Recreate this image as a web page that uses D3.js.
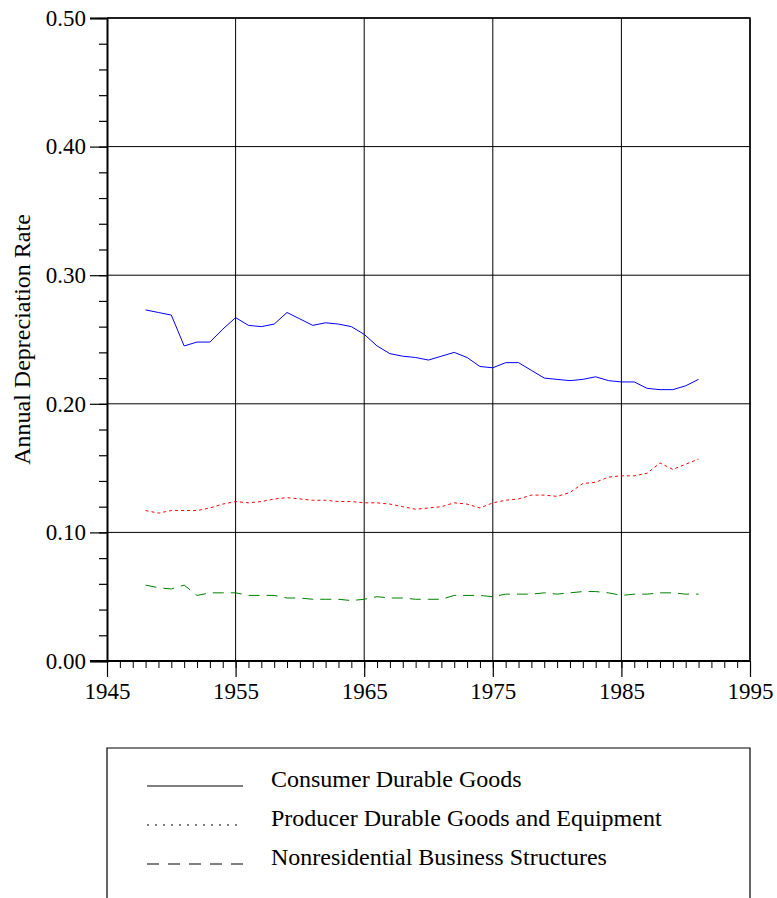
<!DOCTYPE html>
<html>
<head>
<meta charset="utf-8">
<script src="https://cdn.jsdelivr.net/npm/d3@7"></script>
<style>
  body { margin: 0; background: #fff; }
  svg text { font-family: "Liberation Serif", "Times New Roman", serif; fill: #000; }
</style>
</head>
<body>
<div id="chart"></div>
<script>
// years 1948..1991
const years = d3.range(1948, 1992);

const consumerDurables = [
  0.273, 0.271, 0.269, 0.245, 0.248, 0.248, 0.258, 0.267, 0.261, 0.260,
  0.262, 0.271, 0.266, 0.261, 0.263, 0.262, 0.260, 0.254, 0.245, 0.239,
  0.237, 0.236, 0.234, 0.237, 0.240, 0.236, 0.229, 0.228, 0.232, 0.232,
  0.226, 0.220, 0.219, 0.218, 0.219, 0.221, 0.218, 0.217, 0.217, 0.212,
  0.211, 0.211, 0.214, 0.219
];
const producerDurables = [
  0.117, 0.115, 0.117, 0.117, 0.117, 0.119, 0.122, 0.124, 0.123, 0.124,
  0.126, 0.127, 0.126, 0.125, 0.125, 0.124, 0.124, 0.123, 0.123, 0.122,
  0.120, 0.118, 0.119, 0.120, 0.123, 0.122, 0.119, 0.123, 0.125, 0.126,
  0.129, 0.129, 0.128, 0.131, 0.138, 0.139, 0.143, 0.144, 0.144, 0.146,
  0.154, 0.149, 0.153, 0.157
];
const nonresStructures = [
  0.059, 0.057, 0.056, 0.059, 0.051, 0.053, 0.053, 0.053, 0.051, 0.051,
  0.051, 0.049, 0.049, 0.048, 0.048, 0.048, 0.047, 0.048, 0.050, 0.049,
  0.049, 0.048, 0.048, 0.048, 0.051, 0.051, 0.051, 0.050, 0.052, 0.052,
  0.052, 0.053, 0.052, 0.053, 0.054, 0.054, 0.053, 0.051, 0.052, 0.052,
  0.053, 0.053, 0.052, 0.052
];

const seriesNames = ["Consumer Durable Goods", "Producer Durable Goods and Equipment", "Nonresidential Business Structures"];
const seriesColors = ["#0000ff", "#ff0000", "#008000"];
const seriesDash = [null, "3,3", "11,7"];
const legendDash = [null, "2,6", "12,9"];

const xTicks = [1945, 1955, 1965, 1975, 1985, 1995];
const yTicks = [0, 0.1, 0.2, 0.3, 0.4, 0.5];

let width = 777, height = 898;
let margin = {left: 107, right: 27, top: 18, bottom: 237};
let serif = '"Liberation Serif", "Times New Roman", serif';

let svg = d3.select('#chart').append('svg')
    .attr('width', width)
    .attr('height', height);

let x = d3.scaleLinear().domain([1945, 1995]).range([margin.left, width - margin.right]);
let y = d3.scaleLinear().domain([0, 0.5]).range([height - margin.bottom, margin.top]);

// grid
svg.append('g').selectAll('line')
    .data(yTicks.slice(1))
    .join('line')
    .attr('x1', x(1945)).attr('x2', x(1995))
    .attr('y1', d => y(d)).attr('y2', d => y(d))
    .attr('stroke', '#000').attr('stroke-width', 1);
svg.append('g').selectAll('line')
    .data(xTicks.slice(1))
    .join('line')
    .attr('x1', d => x(d)).attr('x2', d => x(d))
    .attr('y1', y(0)).attr('y2', y(0.5))
    .attr('stroke', '#000').attr('stroke-width', 1);

// y axis
let yMinor = svg.append('g').attr('transform', `translate(${x(1945)},0)`)
    .call(d3.axisLeft(y).tickValues(d3.range(0, 0.501, 0.02)).tickSize(8).tickFormat(''));
yMinor.selectAll('.tick line').attr('stroke-width', 1.2);
yMinor.select('.domain').remove();
let yMajor = svg.append('g').attr('transform', `translate(${x(1945)},0)`)
    .call(d3.axisLeft(y).tickValues(yTicks).tickSize(17).tickFormat(d3.format('.2f')));
yMajor.select('.domain').attr('stroke-width', 2);
yMajor.selectAll('.tick line').attr('stroke-width', 1.2);
yMajor.selectAll('.tick text').attr('font-size', 23).attr('x', -21)
    .style('font-family', serif);

// x axis
let xMinor = svg.append('g').attr('transform', `translate(0,${y(0)})`)
    .call(d3.axisBottom(x).tickValues(d3.range(1945, 1996, 1)).tickSize(7).tickFormat(''));
xMinor.select('.domain').remove();
let xMajor = svg.append('g').attr('transform', `translate(0,${y(0)})`)
    .call(d3.axisBottom(x).tickValues(xTicks).tickSize(16).tickFormat(d3.format('d')));
xMajor.select('.domain').attr('stroke-width', 2).attr('d', `M${x(1945) - 17},0H${x(1995)}`);
xMajor.selectAll('.tick line').attr('stroke-width', 1.2);
xMajor.selectAll('.tick text').attr('font-size', 23).attr('y', 22)
    .style('font-family', serif);

// top & right frame
svg.append('path')
    .attr('d', `M${x(1945)},${y(0.5)}H${x(1995)}V${y(0)}`)
    .attr('fill', 'none').attr('stroke', '#000').attr('stroke-width', 1.5);

// axis title
svg.append('text')
    .attr('transform', `translate(30,${(y(0) + y(0.5)) / 2}) rotate(-90)`)
    .attr('text-anchor', 'middle')
    .attr('font-size', 24)
    .text('Annual Depreciation Rate');

// lines
let allSeries = [consumerDurables, producerDurables, nonresStructures];
let line = d3.line().x((d, i) => x(years[i])).y(d => y(d));
allSeries.forEach((s, k) => {
    svg.append('path')
        .datum(s)
        .attr('d', line)
        .attr('fill', 'none')
        .attr('stroke', seriesColors[k])
        .attr('stroke-width', 1)
        .attr('stroke-dasharray', seriesDash[k]);
});

// legend box (runs off the bottom of the page)
svg.append('path')
    .attr('d', `M${x(1945)},${height + 5}V748H${x(1995)}V${height + 5}`)
    .attr('fill', 'none').attr('stroke', '#000').attr('stroke-width', 1.2);

let legend = svg.append('g').selectAll('g')
    .data(seriesNames)
    .join('g')
    .attr('transform', (d, i) => `translate(0,${786 + i * 39})`);
legend.append('line')
    .attr('x1', 147).attr('x2', 243)
    .attr('y1', 0).attr('y2', 0)
    .attr('stroke', '#000').attr('stroke-width', 1)
    .attr('stroke-dasharray', (d, i) => legendDash[i]);
legend.append('text')
    .attr('x', 271).attr('y', 1)
    .attr('font-size', 24)
    .text(d => d);
</script>
</body>
</html>
